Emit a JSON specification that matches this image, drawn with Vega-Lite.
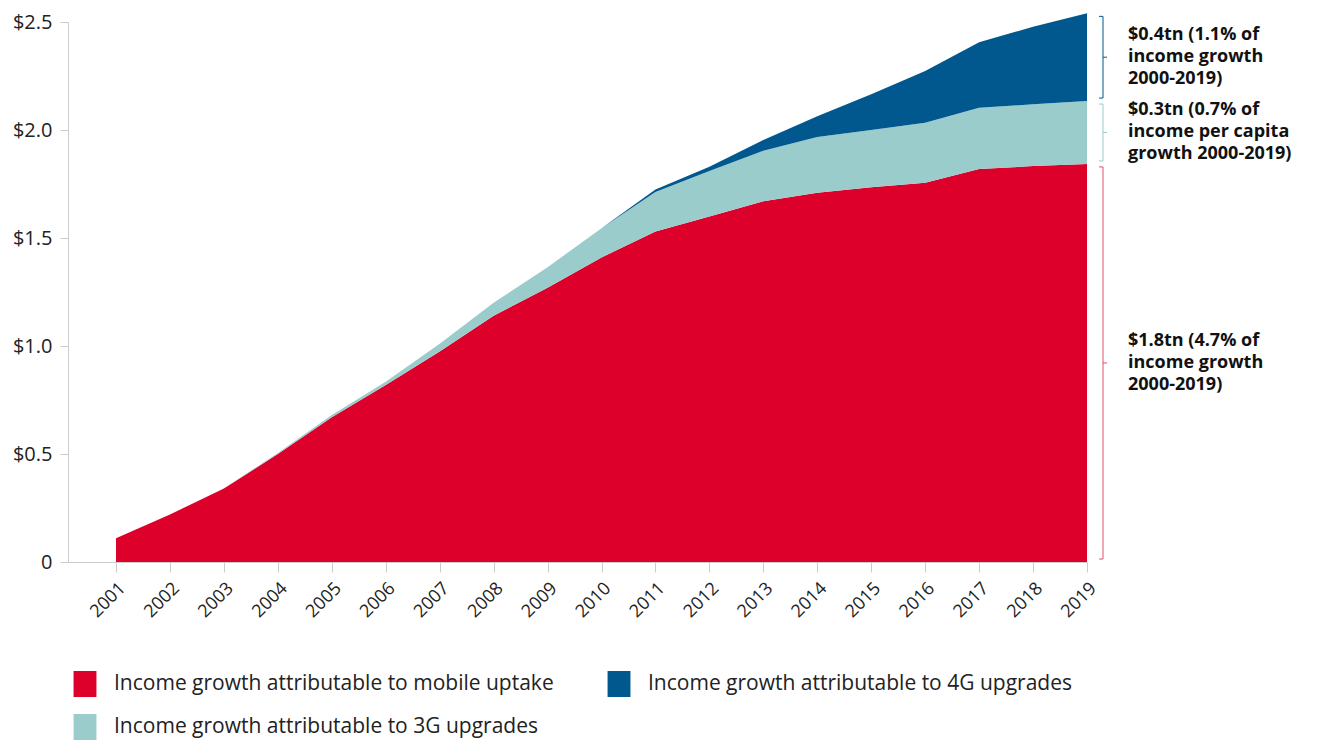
{
  "$schema": "https://vega.github.io/schema/vega-lite/v6.json",
  "width": 1019,
  "height": 540,
  "autosize": {"type": "none"},
  "padding": {"left": 68, "top": 22, "right": 240, "bottom": 178},
  "background": "white",
  "config": {"view": {"stroke": null}, "font": "Open Sans"},
  "datasets": {
    "income": [
      {"year": 2001, "series": "mobile", "value": 0.11}, {"year": 2001, "series": "3g", "value": 0}, {"year": 2001, "series": "4g", "value": 0},
      {"year": 2002, "series": "mobile", "value": 0.22}, {"year": 2002, "series": "3g", "value": 0}, {"year": 2002, "series": "4g", "value": 0},
      {"year": 2003, "series": "mobile", "value": 0.34}, {"year": 2003, "series": "3g", "value": 0}, {"year": 2003, "series": "4g", "value": 0},
      {"year": 2004, "series": "mobile", "value": 0.5}, {"year": 2004, "series": "3g", "value": 0.005}, {"year": 2004, "series": "4g", "value": 0},
      {"year": 2005, "series": "mobile", "value": 0.67}, {"year": 2005, "series": "3g", "value": 0.01}, {"year": 2005, "series": "4g", "value": 0},
      {"year": 2006, "series": "mobile", "value": 0.82}, {"year": 2006, "series": "3g", "value": 0.015}, {"year": 2006, "series": "4g", "value": 0},
      {"year": 2007, "series": "mobile", "value": 0.975}, {"year": 2007, "series": "3g", "value": 0.035}, {"year": 2007, "series": "4g", "value": 0},
      {"year": 2008, "series": "mobile", "value": 1.14}, {"year": 2008, "series": "3g", "value": 0.06}, {"year": 2008, "series": "4g", "value": 0},
      {"year": 2009, "series": "mobile", "value": 1.27}, {"year": 2009, "series": "3g", "value": 0.095}, {"year": 2009, "series": "4g", "value": 0},
      {"year": 2010, "series": "mobile", "value": 1.41}, {"year": 2010, "series": "3g", "value": 0.135}, {"year": 2010, "series": "4g", "value": 0},
      {"year": 2011, "series": "mobile", "value": 1.53}, {"year": 2011, "series": "3g", "value": 0.183}, {"year": 2011, "series": "4g", "value": 0.012},
      {"year": 2012, "series": "mobile", "value": 1.6}, {"year": 2012, "series": "3g", "value": 0.21}, {"year": 2012, "series": "4g", "value": 0.02},
      {"year": 2013, "series": "mobile", "value": 1.67}, {"year": 2013, "series": "3g", "value": 0.234}, {"year": 2013, "series": "4g", "value": 0.05},
      {"year": 2014, "series": "mobile", "value": 1.71}, {"year": 2014, "series": "3g", "value": 0.258}, {"year": 2014, "series": "4g", "value": 0.096},
      {"year": 2015, "series": "mobile", "value": 1.735}, {"year": 2015, "series": "3g", "value": 0.265}, {"year": 2015, "series": "4g", "value": 0.165},
      {"year": 2016, "series": "mobile", "value": 1.756}, {"year": 2016, "series": "3g", "value": 0.278}, {"year": 2016, "series": "4g", "value": 0.239},
      {"year": 2017, "series": "mobile", "value": 1.819}, {"year": 2017, "series": "3g", "value": 0.284}, {"year": 2017, "series": "4g", "value": 0.303},
      {"year": 2018, "series": "mobile", "value": 1.833}, {"year": 2018, "series": "3g", "value": 0.286}, {"year": 2018, "series": "4g", "value": 0.359},
      {"year": 2019, "series": "mobile", "value": 1.843}, {"year": 2019, "series": "3g", "value": 0.291}, {"year": 2019, "series": "4g", "value": 0.406}
    ],
    "brackets": [
      {"series": "4g", "lo": 2.134, "hi": 2.54, "label": "$0.4tn (1.1% of\nincome growth\n2000-2019)"},
      {"series": "3g", "lo": 1.843, "hi": 2.134, "label": "$0.3tn (0.7% of\nincome per capita\ngrowth 2000-2019)"},
      {"series": "mobile", "lo": 0, "hi": 1.843, "label": "$1.8tn (4.7% of\nincome growth\n2000-2019)"}
    ]
  },
  "layer": [
    {
      "data": {"name": "income"},
      "transform": [{"calculate": "indexof(['mobile','3g','4g'], datum.series)", "as": "rank"}],
      "mark": {"type": "area", "interpolate": "linear"},
      "encoding": {
        "x": {
          "field": "year", "type": "quantitative",
          "scale": {"domain": [2000.11, 2019], "nice": false, "zero": false},
          "axis": {
            "title": null, "values": [2001,2002,2003,2004,2005,2006,2007,2008,2009,2010,2011,2012,2013,2014,2015,2016,2017,2018,2019],
            "format": "d", "labelAngle": -45, "labelFontSize": 18, "labelColor": "#222",
            "tickSize": 10, "tickColor": "#cccccc", "domainColor": "#cccccc", "grid": false, "labelPadding": 7
          }
        },
        "y": {
          "field": "value", "type": "quantitative", "stack": "zero",
          "scale": {"domain": [0, 2.5], "nice": false},
          "axis": {
            "title": null, "values": [0, 0.5, 1, 1.5, 2, 2.5],
            "labelExpr": "datum.value == 0 ? '0' : '$' + format(datum.value, '.1f')",
            "labelFontSize": 20, "labelColor": "#222", "tickSize": 8, "tickColor": "#cccccc",
            "domainColor": "#cccccc", "grid": false, "labelPadding": 8
          }
        },
        "color": {
          "field": "series", "type": "nominal",
          "scale": {"domain": ["mobile", "4g", "3g"], "range": ["#DC002B", "#00588F", "#9BCCCC"]},
          "legend": {
            "title": null, "orient": "none", "legendX": 4, "legendY": 649, "columns": 2, "direction": "horizontal",
            "labelExpr": "{'mobile':'Income growth attributable to mobile uptake','4g':'Income growth attributable to 4G upgrades','3g':'Income growth attributable to 3G upgrades'}[datum.value]",
            "symbolType": "M-0.88,-1L0.88,-1L0.88,1L-0.88,1Z", "symbolSize": 676, "symbolStrokeWidth": 0,
            "labelFontSize": 21, "labelColor": "#222", "labelOffset": 16, "rowPadding": 17, "columnPadding": 52,
            "gridAlign": "all", "labelLimit": 600
          }
        },
        "order": {"field": "rank", "type": "quantitative"}
      }
    },
    {
      "data": {"name": "brackets"},
      "mark": {"type": "rule", "strokeWidth": 1, "xOffset": 16, "yOffset": 3, "y2Offset": -3},
      "encoding": {
        "x": {"datum": 2019, "type": "quantitative"},
        "y": {"field": "hi", "type": "quantitative"},
        "y2": {"field": "lo"},
        "stroke": {"field": "series", "type": "nominal", "scale": {"domain": ["mobile", "4g", "3g"], "range": ["#E0506A", "#00588F", "#9BCCCC"]}, "legend": null}
      }
    },
    {
      "data": {"name": "brackets"},
      "mark": {"type": "rule", "strokeWidth": 1, "xOffset": 12, "x2Offset": 16, "yOffset": 3},
      "encoding": {
        "x": {"datum": 2019, "type": "quantitative"},
        "x2": {"datum": 2019},
        "y": {"field": "hi", "type": "quantitative"},
        "stroke": {"field": "series", "type": "nominal", "legend": null}
      }
    },
    {
      "data": {"name": "brackets"},
      "mark": {"type": "rule", "strokeWidth": 1, "xOffset": 12, "x2Offset": 16, "yOffset": -3},
      "encoding": {
        "x": {"datum": 2019, "type": "quantitative"},
        "x2": {"datum": 2019},
        "y": {"field": "lo", "type": "quantitative"},
        "stroke": {"field": "series", "type": "nominal", "legend": null}
      }
    },
    {
      "data": {"name": "brackets"},
      "transform": [{"calculate": "(datum.lo + datum.hi) / 2", "as": "mid"}],
      "mark": {"type": "rule", "strokeWidth": 1, "xOffset": 16, "x2Offset": 20},
      "encoding": {
        "x": {"datum": 2019, "type": "quantitative"},
        "x2": {"datum": 2019},
        "y": {"field": "mid", "type": "quantitative"},
        "stroke": {"field": "series", "type": "nominal", "legend": null}
      }
    },
    {
      "data": {"name": "brackets"},
      "transform": [{"calculate": "(datum.lo + datum.hi) / 2", "as": "mid"}],
      "mark": {"type": "text", "align": "left", "baseline": "middle", "xOffset": 41, "dy": -22, "fontSize": 18, "fontWeight": "bold", "lineHeight": 22, "lineBreak": "\n", "color": "#111111"},
      "encoding": {
        "x": {"datum": 2019, "type": "quantitative"},
        "y": {"field": "mid", "type": "quantitative"},
        "text": {"field": "label"}
      }
    }
  ]
}
